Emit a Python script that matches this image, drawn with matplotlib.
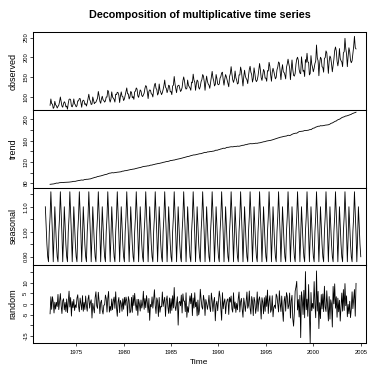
import numpy as np
import matplotlib
matplotlib.use("Agg")
import matplotlib.pyplot as plt

plt.rcParams['font.family'] = ['Liberation Sans', 'DejaVu Sans']

# ===== data (monthly, Oct 1971 - Jan 2005) =====
start_year = 1971.75
observed = [
    86, 77, 75,
    70, 71, 77, 78, 94, 82, 81, 70, 73, 88, 79, 77,
    71, 75, 78, 87, 99, 87, 76, 73, 82, 87, 84, 74,
    76, 68, 83, 93, 94, 92, 76, 74, 80, 94, 82, 79,
    74, 77, 89, 89, 95, 95, 85, 73, 88, 91, 89, 80,
    82, 76, 84, 95, 106, 93, 88, 80, 81, 99, 90, 82,
    85, 86, 91, 96, 113, 102, 88, 83, 94, 101, 92, 90,
    86, 89, 99, 99, 116, 112, 94, 86, 94, 112, 99, 96,
    93, 86, 106, 105, 111, 110, 103, 85, 101, 112, 101, 100,
    90, 94, 103, 113, 122, 107, 107, 94, 99, 113, 111, 97,
    100, 93, 112, 114, 122, 119, 102, 98, 107, 117, 114, 103,
    100, 104, 109, 121, 128, 125, 112, 95, 113, 117, 116, 107,
    106, 99, 117, 129, 134, 121, 118, 104, 109, 132, 116, 111,
    105, 110, 118, 128, 142, 124, 121, 110, 117, 129, 127, 112,
    113, 105, 127, 129, 151, 133, 120, 110, 126, 128, 129, 121,
    113, 116, 123, 140, 150, 140, 124, 119, 121, 142, 129, 125,
    122, 116, 137, 135, 157, 142, 137, 116, 132, 142, 139, 123,
    119, 126, 138, 143, 156, 152, 138, 116, 137, 152, 139, 132,
    129, 121, 136, 153, 164, 148, 140, 127, 131, 156, 146, 132,
    130, 132, 147, 151, 160, 162, 142, 129, 145, 156, 150, 142,
    135, 125, 151, 158, 176, 158, 143, 136, 144, 165, 148, 142,
    132, 134, 155, 155, 175, 165, 147, 127, 151, 167, 152, 146,
    143, 133, 153, 169, 177, 162, 156, 137, 146, 173, 159, 143,
    138, 142, 152, 167, 184, 168, 148, 141, 155, 169, 164, 147,
    147, 139, 166, 165, 187, 177, 155, 139, 162, 172, 164, 154,
    145, 149, 168, 175, 188, 185, 165, 143, 167, 181, 163, 161,
    155, 145, 174, 183, 195, 183, 173, 143, 169, 193, 169, 154,
    152, 159, 182, 195, 200, 192, 169, 160, 158, 201, 183, 164,
    167, 151, 194, 187, 210, 188, 187, 155, 159, 204, 182, 174,
    163, 172, 184, 190, 231, 198, 191, 153, 184, 200, 196, 176,
    174, 162, 197, 199, 216, 211, 187, 159, 190, 203, 198, 183,
    163, 179, 195, 217, 226, 216, 190, 178, 192, 222, 197, 191,
    188, 176, 211, 214, 248, 222, 208, 176, 203, 224, 214, 192,
    186, 191, 209, 227, 253, 224, 221, 189, 205, 236, 214, 203,
    193,
]
# seasonal figure, Jan..Dec
seasonal_figure = [0.90, 0.88, 1.00, 1.06, 1.16, 1.08, 0.99, 0.88, 0.98, 1.10, 1.02, 0.95]

panel_names = ["observed", "trend", "seasonal", "random"]
x_ticks = [1975, 1980, 1985, 1990, 1995, 2000, 2005]

# ===== decomposition =====
obs = np.array(observed, dtype=float)
n = len(obs)
t = start_year + np.arange(n) / 12.0

# centred 2x12 moving average
w = np.r_[0.5, np.ones(11), 0.5] / 12.0
trend = np.convolve(obs, w, mode='valid')
t_mid = t[6:-6]

month_idx = (9 + np.arange(n)) % 12   # first point is October
seasonal = np.array(seasonal_figure)[month_idx]
random = obs[6:-6] - trend * seasonal[6:-6]

# ===== figure =====
W, H = 370, 372
fig = plt.figure(figsize=(W / 100, H / 100), dpi=100)

left, right = 33, 366
edges = [32, 110, 188, 265, 343]

series = [
    (t_mid, obs[6:-6]),
    (t_mid, trend),
    (t, seasonal),
    (t_mid, random),
]
ylims = [(66, 264), (71, 217.5), (0.867, 1.175), (-18.3, 18.3)]
yticks = [
    [100, 150, 200, 250],
    [80, 100, 120, 140, 160, 180, 200],
    [0.90, 0.95, 1.00, 1.05, 1.10, 1.15],
    [-15, -10, -5, 0, 5, 10, 15],
]
ylabels = [
    ["100", "150", "200", "250"],
    ["80", "", "120", "", "160", "", "200"],
    ["0.90", "", "1.00", "", "1.10", ""],
    ["-15", "", "-5", "0", "5", "10", ""],
]

for i in range(4):
    top, bot = edges[i], edges[i + 1]
    ax = fig.add_axes([left / W, 1 - bot / H, (right - left) / W, (bot - top) / H])
    x, y = series[i]
    ax.plot(x, y, color='black', lw=0.6)
    ax.set_xlim(1970.45, 2005.55)
    ax.set_ylim(*ylims[i])
    ax.set_yticks(yticks[i])
    ax.set_yticklabels(ylabels[i], rotation=90, va='center', fontsize=4.2)
    ax.tick_params(axis='both', direction='out', length=2.2, width=0.5, pad=1.2)
    for sp in ax.spines.values():
        sp.set_linewidth(0.75)
        sp.set_color('black')
    ax.set_ylabel(panel_names[i], fontsize=6.5)
    ax.yaxis.set_label_coords(-20 / (right - left), 0.5)
    ax.yaxis.label.set_verticalalignment('center')
    if i < 3:
        ax.set_xticks([])
    else:
        ax.set_xticks(x_ticks)
        ax.set_xticklabels([str(v) for v in x_ticks], fontsize=4.2)
        ax.tick_params(axis='x', pad=2.5)
        ax.set_xlabel("Time", fontsize=6)
        ax.xaxis.set_label_coords(0.5, -20 / (bot - top))
        ax.xaxis.label.set_verticalalignment('center')

fig.text((left + right) / 2 / W, 1 - 15 / H, "Decomposition of multiplicative time series",
         ha='center', va='center', fontsize=7.75, fontweight='bold')

fig.savefig("out.png", dpi=100)
